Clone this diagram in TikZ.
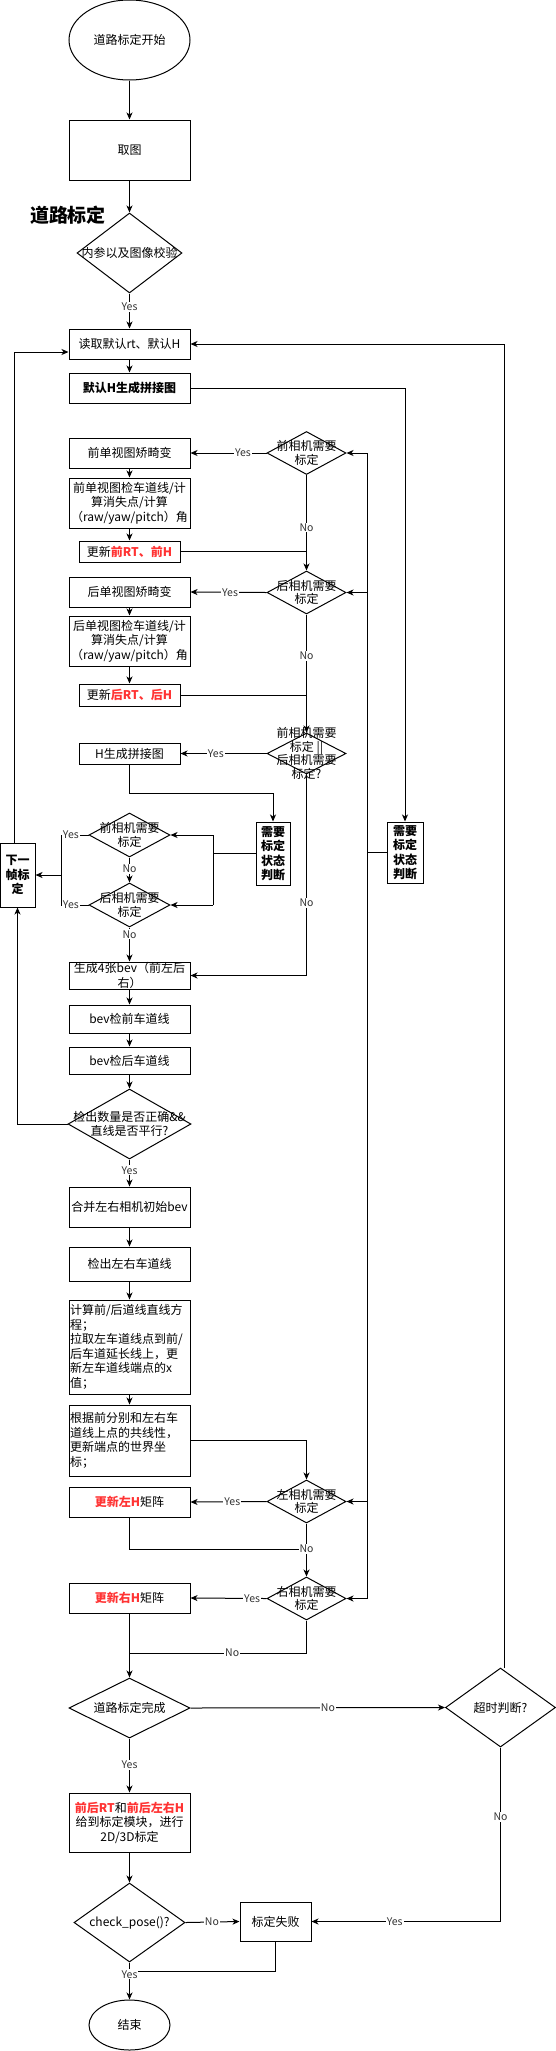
\documentclass[tikz,border=0pt]{standalone}
\usepackage{fontspec}
\setmainfont{Noto Sans CJK SC}
\usetikzlibrary{arrows.meta,shapes.geometric}
\definecolor{redtxt}{HTML}{FF3333}
\definecolor{lblgray}{HTML}{333333}
\newcommand{\rtx}[1]{{\color{redtxt}\bfseries #1}}
\begin{document}
\begin{tikzpicture}[x=1pt,y=-1pt,
  every node/.style={font=\fontsize{12}{14.5}\selectfont, text=black},
  box/.style={draw, line width=1pt, rectangle, inner sep=1pt, align=center},
  dia/.style={draw, line width=1pt, diamond, inner sep=0pt},
  ell/.style={draw, line width=1pt, ellipse, inner sep=0pt},
  dtxt/.style={align=center, inner sep=0pt, font=\fontsize{12}{13.5}\selectfont},
  btxt/.style={align=center, inner sep=0pt, font=\fontsize{12}{15}\selectfont},
  lbl/.style={fill=white, inner sep=1pt, text=lblgray, font=\fontsize{10.5}{12}\selectfont},
  arr/.style={line width=1pt, -{Stealth[length=7pt,width=6pt,inset=2pt]}},
  ln/.style={line width=1pt},
  bx/.style={font=\fontsize{12}{14.5}\selectfont\bfseries}
]
\useasboundingbox (0,0) rectangle (556,2051);

% ---------- nodes ----------
\node[ell, minimum width=121pt, minimum height=80pt] (start) at (129.5,40) {道路标定开始};
\node[box, minimum width=121pt, minimum height=60pt] (qt) at (129.5,150) {取图};
\node[font=\fontsize{19}{22}\selectfont\bfseries, inner sep=0pt] (title) at (68,215.5) {道路标定};
\node[dia, minimum width=105pt, minimum height=80pt, label={[dtxt]center:内参以及图像校验}] (d0) at (129.5,253) {};
\node[box, minimum width=121pt, minimum height=30pt] (rd) at (129.5,344) {读取默认rt、默认H};
\node[box, bx, minimum width=121pt, minimum height=30pt] (mh) at (129.5,388) {默认H生成拼接图};

\node[box, minimum width=121pt, minimum height=30pt] (f1) at (129.5,453) {前单视图矫畸变};
\node[box, minimum width=121pt, minimum height=50pt] (f2) at (129.5,503) {前单视图检车道线/计\\算消失点/计算\\（raw/yaw/pitch）角};
\node[box, minimum width=101pt, minimum height=21pt] (f3) at (129.5,551.5) {更新\rtx{前RT、前H}};
\node[dia, minimum width=79pt, minimum height=43pt, label={[dtxt]center:前相机需要\\标定}] (dF) at (306.5,453) {};

\node[box, minimum width=121pt, minimum height=30pt] (b1) at (129.5,592) {后单视图矫畸变};
\node[box, minimum width=121pt, minimum height=50pt] (b2) at (129.5,641) {后单视图检车道线/计\\算消失点/计算\\（raw/yaw/pitch）角};
\node[box, minimum width=101pt, minimum height=22pt] (b3) at (129.5,695) {更新\rtx{后RT、后H}};
\node[dia, minimum width=79pt, minimum height=43pt, label={[dtxt]center:后相机需要\\标定}] (dB) at (306.5,592.5) {};

\node[dia, minimum width=79pt, minimum height=41pt, label={[dtxt]center:前相机需要\\标定 ||\\后相机需要\\标定?}] (dFB) at (306.5,753.5) {};
\node[box, minimum width=101pt, minimum height=21pt] (hg) at (129.5,753.5) {H生成拼接图};

\node[box, bx, minimum width=34pt, minimum height=63pt] (sjL) at (273,853.5) {需要\\标定\\状态\\判断};
\node[box, bx, minimum width=36pt, minimum height=61pt] (sjR) at (405,852.5) {需要\\标定\\状态\\判断};

\node[dia, minimum width=81pt, minimum height=44pt, label={[dtxt]center:前相机需要\\标定}] (sdF) at (129.5,835) {};
\node[dia, minimum width=81pt, minimum height=44pt, label={[dtxt]center:后相机需要\\标定}] (sdB) at (129.5,905) {};
\node[box, bx, minimum width=35pt, minimum height=64pt] (nxt) at (17.5,875) {下一\\帧标\\定};

\node[box, minimum width=121pt, minimum height=27pt, label={[btxt]center:生成4张bev（前左后\\右）}] (bev4) at (129.5,975.5) {};
\node[box, minimum width=121pt, minimum height=28pt] (bf) at (129.5,1019) {bev检前车道线};
\node[box, minimum width=121pt, minimum height=27pt] (bb) at (129.5,1060.5) {bev检后车道线};
\node[dia, minimum width=123pt, minimum height=70pt, label={[dtxt]center:检出数量是否正确\&\&\\直线是否平行?}] (dChk) at (129.5,1124) {};
\node[box, minimum width=121pt, minimum height=40pt] (mg) at (129.5,1207) {合并左右相机初始bev};
\node[box, minimum width=121pt, minimum height=34pt] (jc) at (129.5,1264) {检出左右车道线};
\node[box, minimum width=121pt, minimum height=94pt, text width=119pt, align=left] (calc) at (129.5,1347) {计算前/后道线直线方\\程；\\拉取左车道线点到前/\\后车道延长线上，更\\新左车道线端点的x\\值；};
\node[box, minimum width=121pt, minimum height=71pt, text width=119pt, align=left] (gen) at (129.5,1440.5) {根据前分别和左右车\\道线上点的共线性，\\更新端点的世界坐\\标；};

\node[dia, minimum width=79pt, minimum height=43pt, label={[dtxt]center:左相机需要\\标定}] (dL) at (306.5,1501.5) {};
\node[box, minimum width=121pt, minimum height=30pt] (uL) at (129.5,1502) {\rtx{更新左H}矩阵};
\node[dia, minimum width=79pt, minimum height=43pt, label={[dtxt]center:右相机需要\\标定}] (dR) at (306.5,1598.5) {};
\node[box, minimum width=121pt, minimum height=30pt] (uR) at (129.5,1598) {\rtx{更新右H}矩阵};

\node[dia, minimum width=121pt, minimum height=60pt, label={[dtxt]center:道路标定完成}] (dDone) at (129.5,1708) {};
\node[dia, minimum width=110pt, minimum height=79pt, label={[dtxt]center:超时判断?}] (dTO) at (500.5,1707.5) {};
\node[box, minimum width=121pt, minimum height=59pt] (giv) at (129.5,1822.5) {\rtx{前后RT}和\rtx{前后左右H}\\给到标定模块，进行\\2D/3D标定};
\node[dia, minimum width=111pt, minimum height=79pt, label={[dtxt]center:check\_pose()?}] (dCP) at (129.5,1922.5) {};
\node[box, minimum width=71pt, minimum height=39pt] (fail) at (275.5,1921.5) {标定失败};
\node[ell, minimum width=81pt, minimum height=50pt] (end) at (129.5,2025) {结束};

% ---------- helper coordinates ----------
\coordinate (r1) at (367,453);
\coordinate (r4) at (367,1598.5);
\coordinate (lv1) at (213,835);
\coordinate (lv2) at (213,905);
\coordinate (yv) at (61,875);
\coordinate (k1) at (273,793);
\coordinate (jn1) at (129.5,1653);
\coordinate (jn2) at (306.5,1549);
\coordinate (jn3) at (129.5,1971);

% ---------- connectors ----------
\draw[arr] (start) -- (qt);
\draw[arr] (qt) -- (d0);
\draw[arr] (d0) -- (rd) node[lbl, pos=0.39] {Yes};
\draw[arr] (rd) -- (mh);
\draw[arr] (mh.east) -| (sjR.north);
\draw[ln] (sjR.west) -- (sjR.west -| r1);
\draw[ln] (r1) -- (r4);
\draw[arr] (r1) -- (dF.east);
\draw[arr] (dB.east -| r1) -- (dB.east);
\draw[arr] (dL.east -| r1) -- (dL.east);
\draw[arr] (r4) -- (dR.east);

\draw[arr] (dF.west) -- (f1.east) node[lbl, pos=0.31] {Yes};
\draw[arr] (f1) -- (f2);
\draw[arr] (f2) -- (f3);
\draw[ln] (f3.east) -- (f3.east -| dF);
\draw[arr] (dF) -- (dB) node[lbl, pos=0.55] {No};

\draw[arr] (dB.west) -- (b1.east) node[lbl, pos=0.48] {Yes};
\draw[arr] (b1) -- (b2);
\draw[arr] (b2) -- (b3);
\draw[ln] (b3.east) -- (b3.east -| dB);
\draw[arr] (dB) -- (dFB.north) node[lbl, pos=0.35] {No};

\draw[arr] (dFB.west) -- (hg.east) node[lbl, pos=0.59] {Yes};
\draw[arr] (hg.south) |- (k1) -- (sjL.north);
\draw[ln] (sjL.west) -- (sjL.west -| lv1);
\draw[ln] (lv1) -- (lv2);
\draw[arr] (lv1) -- (sdF.east);
\draw[arr] (lv2) -- (sdB.east);
\draw[arr] (sdF) -- (sdB) node[lbl, pos=0.46] {No};
\draw[ln] (sdF.west) -- (sdF.west -| yv) node[lbl, pos=0.64] {Yes} -- (sdB.west -| yv);
\draw[ln] (sdB.west) -- (sdB.west -| yv) node[lbl, pos=0.64] {Yes};
\draw[arr] (yv) -- (nxt.east);
\draw[arr] ([xshift=-3.5pt]nxt.north) |- ([yshift=-8pt]rd.west);

\draw[arr] (sdB) -- (bev4) node[lbl, pos=0.2] {No};
\draw[arr] (dFB.south) |- (bev4.east) node[lbl, pos=0.32] {No};
\draw[arr] (bev4) -- (bf);
\draw[arr] (bf) -- (bb);
\draw[arr] (bb) -- (dChk);
\draw[arr] (dChk.west) -| (nxt.south);
\draw[arr] (dChk) -- (mg) node[lbl, pos=0.4] {Yes};
\draw[arr] (mg) -- (jc);
\draw[arr] (jc) -- (calc);
\draw[arr] (calc) -- (gen);

\draw[arr] (gen.east) -| (dL.north);
\draw[arr] (dL.west) -- (uL.east) node[lbl, pos=0.45] {Yes};
\draw[ln] (uL.south) |- (jn2);
\draw[arr] (dL) -- (dR) node[lbl, pos=0.48] {No};
\draw[arr] (dR.west) -- (uR.east) node[lbl, pos=0.19] {Yes};
\draw[ln] (dR.south) |- (jn1) node[lbl, pos=0.71] {No};
\draw[arr] (uR) -- (dDone);

\draw[arr] (dDone.east) -- (dTO.west) node[lbl, pos=0.54] {No};
\draw[arr] ([xshift=3.5pt]dTO.north) |- (rd.east);
\draw[arr] (dDone) -- (giv) node[lbl, pos=0.49] {Yes};
\draw[arr] (giv) -- (dCP);
\draw[arr] (dCP.east) -- (fail.west) node[lbl, pos=0.49] {No};
\draw[arr] (dTO.south) |- (fail.east) node[lbl, pos=0.2] {No} node[lbl, pos=0.78] {Yes};
\draw[ln] (fail.south) |- (jn3);
\draw[arr] (dCP) -- (end) node[lbl, pos=0.32] {Yes};
\end{tikzpicture}
\end{document}
